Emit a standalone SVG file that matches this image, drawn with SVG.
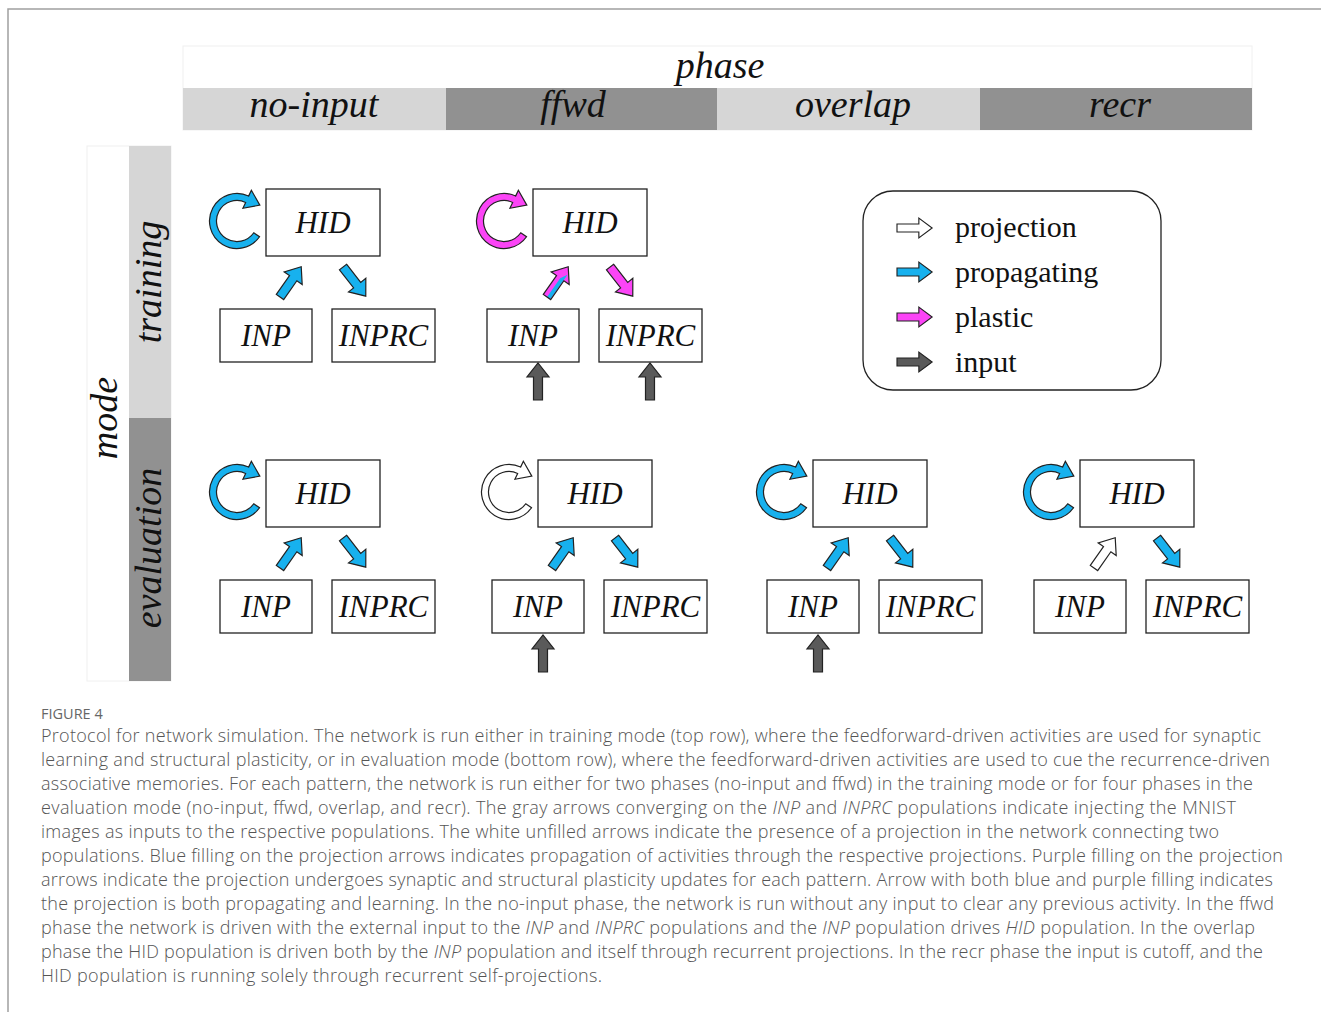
<svg xmlns="http://www.w3.org/2000/svg" width="1321" height="1012" viewBox="0 0 1321 1012">
<style>
.lbl{font-family:"Liberation Serif","Times New Roman",serif;font-style:italic;fill:#111;text-anchor:middle}
.hdr{font-size:38px}
.node{fill:#fff;stroke:#222;stroke-width:1.3}
.ntxt{font-family:"Liberation Serif","Times New Roman",serif;font-style:italic;font-size:31px;fill:#111;text-anchor:middle}
.leg{font-family:"Liberation Serif","Times New Roman",serif;font-size:30px;fill:#111}
.ar{stroke:#222;stroke-width:1.2;stroke-linejoin:miter}
.blue{fill:#17b1ee}
.mag{fill:#fb44f6}
.white{fill:#fff}
.gray{fill:#5a5a5a}
.cap{font-family:"Open Sans","Noto Sans","Liberation Sans",sans-serif;font-size:18px;fill:#555;font-weight:300}
.fig{font-family:"Open Sans","Noto Sans","Liberation Sans",sans-serif;font-size:14.5px;fill:#666}
</style>
<defs>
<path id="arw" d="M0,-4.5 H23 V-11 L37,0 L23,11 V4.5 H0 Z"/>
<path id="rec" d="M22.53,15.77 A27.5,27.5 0 1 1 11.62,-24.92 L14.37,-30.81 L22.83,-15.83 L5.91,-12.69 L8.66,-18.58 A20.5,20.5 0 1 0 16.79,11.76 Z"/>
</defs>
<rect width="1321" height="1012" fill="#fff"/>
<path d="M8,1012 V9 H1321" fill="none" stroke="#a0a0a0" stroke-width="1.5"/>

<g id="phase-header">
<rect x="183" y="46" width="1069" height="84" fill="#fff" stroke="#f0f0f0"/>
<text class="lbl hdr" x="720" y="78">phase</text>
<rect x="183" y="88" width="263" height="42" fill="#d6d6d6"/>
<rect x="446" y="88" width="271" height="42" fill="#919191"/>
<rect x="717" y="88" width="263" height="42" fill="#d6d6d6"/>
<rect x="980" y="88" width="272" height="42" fill="#919191"/>
<text class="lbl hdr" x="314" y="117">no-input</text>
<text class="lbl hdr" x="573" y="117">ffwd</text>
<text class="lbl hdr" x="853" y="117">overlap</text>
<text class="lbl hdr" x="1120" y="117">recr</text>
</g>

<g id="mode-header">
<rect x="87" y="146" width="84" height="535" fill="#fff" stroke="#f0f0f0"/>
<rect x="129" y="146" width="42" height="272" fill="#d6d6d6"/>
<rect x="129" y="418" width="42" height="263" fill="#919191"/>
<text class="lbl hdr" transform="translate(117,418) rotate(-90)">mode</text>
<text class="lbl hdr" transform="translate(161,282) rotate(-90)">training</text>
<text class="lbl hdr" transform="translate(161,548) rotate(-90)">evaluation</text>
</g>

<g id="nodes">
<g id="t1-nodes" transform="translate(266,189)">
<g id="t1-hid"><rect class="node" x="0" y="0" width="114" height="67"/><text class="ntxt" x="57" y="44">HID</text></g>
<g id="t1-inp"><rect class="node" x="-46" y="120" width="92" height="53"/><text class="ntxt" x="0" y="157">INP</text></g>
<g id="t1-inprc"><rect class="node" x="66" y="120" width="103" height="53"/><text class="ntxt" x="117.5" y="157">INPRC</text></g>
</g>
<g id="t2-nodes" transform="translate(533,189)">
<g id="t2-hid"><rect class="node" x="0" y="0" width="114" height="67"/><text class="ntxt" x="57" y="44">HID</text></g>
<g id="t2-inp"><rect class="node" x="-46" y="120" width="92" height="53"/><text class="ntxt" x="0" y="157">INP</text></g>
<g id="t2-inprc"><rect class="node" x="66" y="120" width="103" height="53"/><text class="ntxt" x="117.5" y="157">INPRC</text></g>
</g>
<g id="e1-nodes" transform="translate(266,460)">
<g id="e1-hid"><rect class="node" x="0" y="0" width="114" height="67"/><text class="ntxt" x="57" y="44">HID</text></g>
<g id="e1-inp"><rect class="node" x="-46" y="120" width="92" height="53"/><text class="ntxt" x="0" y="157">INP</text></g>
<g id="e1-inprc"><rect class="node" x="66" y="120" width="103" height="53"/><text class="ntxt" x="117.5" y="157">INPRC</text></g>
</g>
<g id="e2-nodes" transform="translate(538,460)">
<g id="e2-hid"><rect class="node" x="0" y="0" width="114" height="67"/><text class="ntxt" x="57" y="44">HID</text></g>
<g id="e2-inp"><rect class="node" x="-46" y="120" width="92" height="53"/><text class="ntxt" x="0" y="157">INP</text></g>
<g id="e2-inprc"><rect class="node" x="66" y="120" width="103" height="53"/><text class="ntxt" x="117.5" y="157">INPRC</text></g>
</g>
<g id="e3-nodes" transform="translate(813,460)">
<g id="e3-hid"><rect class="node" x="0" y="0" width="114" height="67"/><text class="ntxt" x="57" y="44">HID</text></g>
<g id="e3-inp"><rect class="node" x="-46" y="120" width="92" height="53"/><text class="ntxt" x="0" y="157">INP</text></g>
<g id="e3-inprc"><rect class="node" x="66" y="120" width="103" height="53"/><text class="ntxt" x="117.5" y="157">INPRC</text></g>
</g>
<g id="e4-nodes" transform="translate(1080,460)">
<g id="e4-hid"><rect class="node" x="0" y="0" width="114" height="67"/><text class="ntxt" x="57" y="44">HID</text></g>
<g id="e4-inp"><rect class="node" x="-46" y="120" width="92" height="53"/><text class="ntxt" x="0" y="157">INP</text></g>
<g id="e4-inprc"><rect class="node" x="66" y="120" width="103" height="53"/><text class="ntxt" x="117.5" y="157">INPRC</text></g>
</g>
</g>

<g id="connectors">
<g transform="translate(266,189)">
<use href="#rec" class="ar blue" transform="translate(-29,32)"/>
<use href="#arw" class="ar blue" transform="translate(14,108) rotate(-55)"/>
<use href="#arw" class="ar blue" transform="translate(77,78) rotate(52)"/>
</g>
<g transform="translate(533,189)">
<use href="#rec" class="ar mag" transform="translate(-29,32)"/>
<g transform="translate(14,108) rotate(-55)">
<use href="#arw" class="mag"/>
<path d="M0,0 H23 L30,4 L23,4 H0 Z" class="blue"/>
<use href="#arw" class="ar" fill="none"/>
</g>
<use href="#arw" class="ar mag" transform="translate(77,78) rotate(52)"/>
<use href="#arw" class="ar gray" transform="translate(5,211) rotate(-90)"/>
<use href="#arw" class="ar gray" transform="translate(117,211) rotate(-90)"/>
</g>
<g transform="translate(266,460)">
<use href="#rec" class="ar blue" transform="translate(-29,32)"/>
<use href="#arw" class="ar blue" transform="translate(14,108) rotate(-55)"/>
<use href="#arw" class="ar blue" transform="translate(77,78) rotate(52)"/>
</g>
<g transform="translate(538,460)">
<use href="#rec" class="ar white" transform="translate(-29,32)"/>
<use href="#arw" class="ar blue" transform="translate(14,108) rotate(-55)"/>
<use href="#arw" class="ar blue" transform="translate(77,78) rotate(52)"/>
<use href="#arw" class="ar gray" transform="translate(5,212) rotate(-90)"/>
</g>
<g transform="translate(813,460)">
<use href="#rec" class="ar blue" transform="translate(-29,32)"/>
<use href="#arw" class="ar blue" transform="translate(14,108) rotate(-55)"/>
<use href="#arw" class="ar blue" transform="translate(77,78) rotate(52)"/>
<use href="#arw" class="ar gray" transform="translate(5,212) rotate(-90)"/>
</g>
<g transform="translate(1080,460)">
<use href="#rec" class="ar blue" transform="translate(-29,32)"/>
<use href="#arw" class="ar white" transform="translate(14,108) rotate(-55)"/>
<use href="#arw" class="ar blue" transform="translate(77,78) rotate(52)"/>
</g>
</g>

<g id="legend">
<rect x="863" y="191" width="298" height="199" rx="30" fill="#fff" stroke="#222" stroke-width="1.3"/>
<use href="#arw" class="ar white" transform="translate(897,228) scale(0.95,0.9)"/>
<use href="#arw" class="ar blue" transform="translate(897,272) scale(0.95,0.9)"/>
<use href="#arw" class="ar mag" transform="translate(897,317) scale(0.95,0.9)"/>
<use href="#arw" class="ar gray" transform="translate(897,362) scale(0.95,0.9)"/>
<text class="leg" x="955" y="237">projection</text>
<text class="leg" x="955" y="282">propagating</text>
<text class="leg" x="955" y="327">plastic</text>
<text class="leg" x="955" y="372">input</text>
</g>

<g id="caption">
<text class="fig" x="41" y="719">FIGURE 4</text>
<text class="cap" x="41" y="742" textLength="1220" lengthAdjust="spacing">Protocol for network simulation. The network is run either in training mode (top row), where the feedforward-driven activities are used for synaptic</text>
<text class="cap" x="41" y="766" textLength="1229" lengthAdjust="spacing">learning and structural plasticity, or in evaluation mode (bottom row), where the feedforward-driven activities are used to cue the recurrence-driven</text>
<text class="cap" x="41" y="790" textLength="1212" lengthAdjust="spacing">associative memories. For each pattern, the network is run either for two phases (no-input and ffwd) in the training mode or for four phases in the</text>
<text class="cap" x="41" y="814" textLength="1195" lengthAdjust="spacing">evaluation mode (no-input, ffwd, overlap, and recr). The gray arrows converging on the <tspan font-style="italic">INP</tspan> and <tspan font-style="italic">INPRC</tspan> populations indicate injecting the MNIST</text>
<text class="cap" x="41" y="838" textLength="1178" lengthAdjust="spacing">images as inputs to the respective populations. The white unfilled arrows indicate the presence of a projection in the network connecting two</text>
<text class="cap" x="41" y="862" textLength="1242" lengthAdjust="spacing">populations. Blue filling on the projection arrows indicates propagation of activities through the respective projections. Purple filling on the projection</text>
<text class="cap" x="41" y="886" textLength="1232" lengthAdjust="spacing">arrows indicate the projection undergoes synaptic and structural plasticity updates for each pattern. Arrow with both blue and purple filling indicates</text>
<text class="cap" x="41" y="910" textLength="1233" lengthAdjust="spacing">the projection is both propagating and learning. In the no-input phase, the network is run without any input to clear any previous activity. In the ffwd</text>
<text class="cap" x="41" y="934" textLength="1214" lengthAdjust="spacing">phase the network is driven with the external input to the <tspan font-style="italic">INP</tspan> and <tspan font-style="italic">INPRC</tspan> populations and the <tspan font-style="italic">INP</tspan> population drives <tspan font-style="italic">HID</tspan> population. In the overlap</text>
<text class="cap" x="41" y="958" textLength="1222" lengthAdjust="spacing">phase the HID population is driven both by the <tspan font-style="italic">INP</tspan> population and itself through recurrent projections. In the recr phase the input is cutoff, and the</text>
<text class="cap" x="41" y="982" textLength="561" lengthAdjust="spacing">HID population is running solely through recurrent self-projections.</text>
</g>
</svg>
